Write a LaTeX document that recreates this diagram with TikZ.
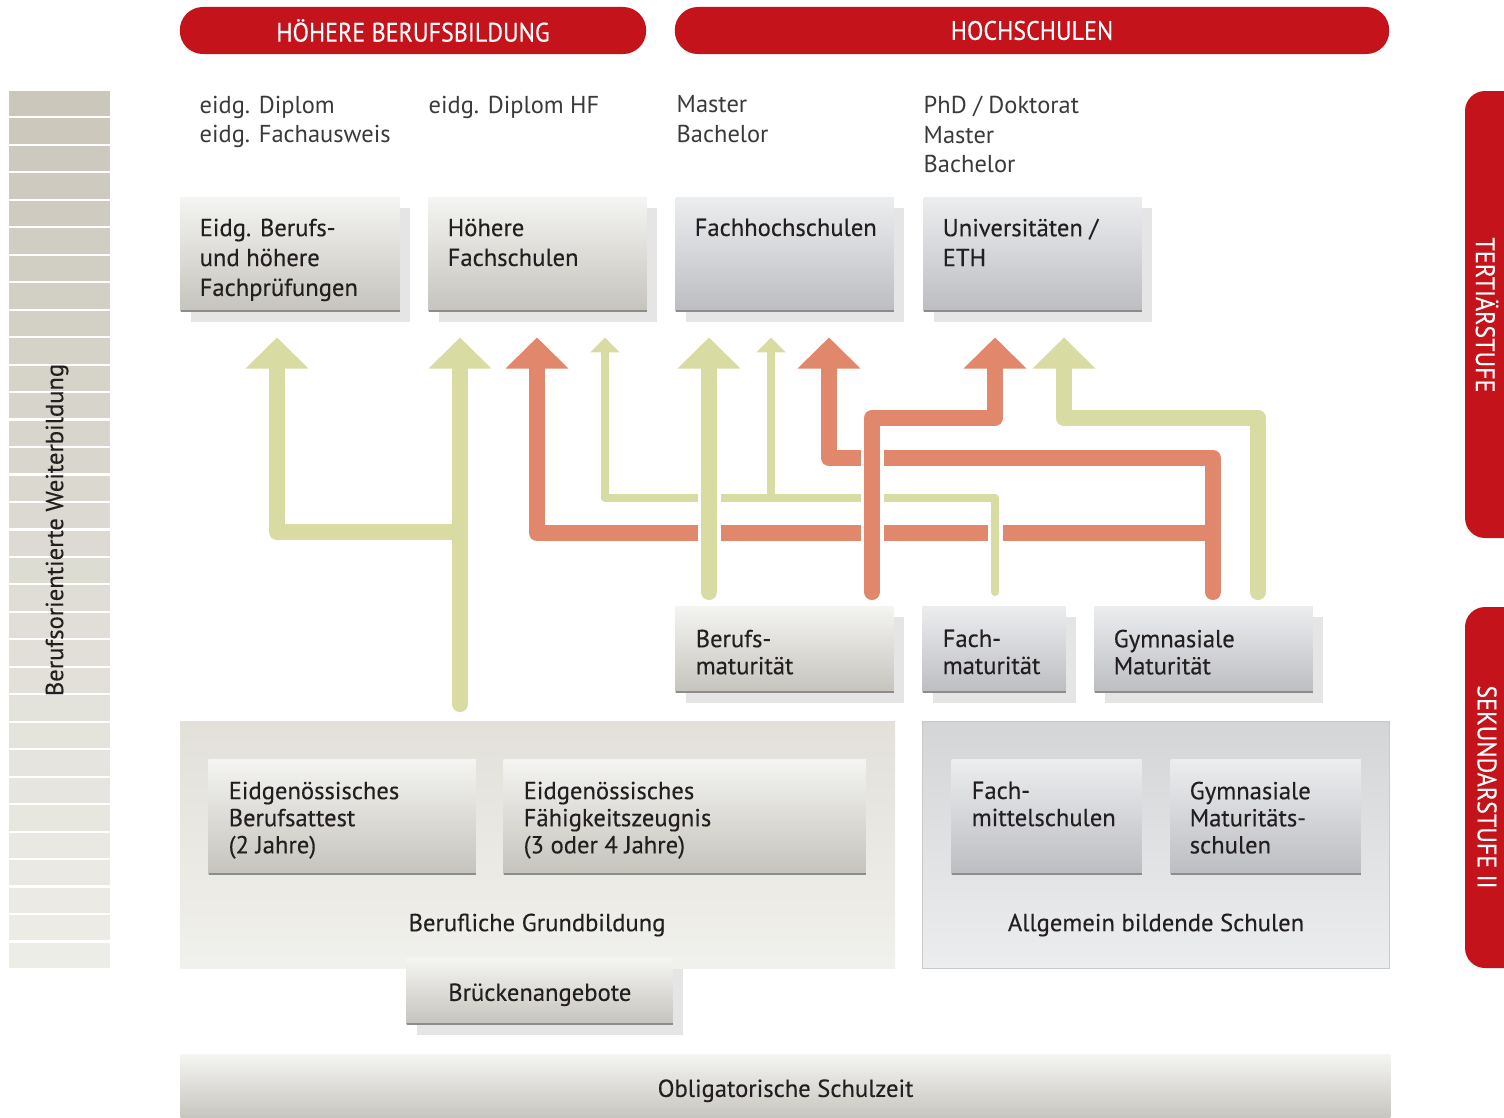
\documentclass[tikz,border=0pt]{standalone}
\usepackage{fontspec}
\setmainfont{PT Sans}
\newfontfamily\mittel{PT Sans}[FakeBold=0.3]
\newfontfamily\schmal{PT Sans}[FakeStretch=0.9,FakeBold=0.2]
\usetikzlibrary{arrows.meta,calc,shadows}

\definecolor{bbred}{HTML}{C4131B}
\definecolor{pfgruen}{HTML}{D8DCA2}
\definecolor{pfrot}{HTML}{E0876C}
\definecolor{warmtop}{HTML}{F4F4F2}
\definecolor{warmbot}{HTML}{C5C3BC}
\definecolor{kalttop}{HTML}{ECEDEF}
\definecolor{kaltbot}{HTML}{BCBDC1}
\definecolor{schatten}{HTML}{E5E5E5}
\definecolor{kante}{HTML}{8C8C8A}
\definecolor{textgrau}{HTML}{231F20}
\definecolor{abgrau}{HTML}{3A3A3A}
\definecolor{balkentop}{HTML}{CBC7BB}
\definecolor{balkenbot}{HTML}{EDEDE8}

\tikzset{
  pille/.style={fill=bbred, rounded corners=0.23cm, minimum height=0.47cm, inner sep=0pt,
    text=white, font=\schmal\fontsize{7.6}{9}\selectfont},
  stufetext/.style={rotate=-90, text=white, inner sep=0pt, font=\schmal\fontsize{7.6}{9}\selectfont},
  abschluss/.style={anchor=north west, align=left, inner sep=0pt, text=abgrau,
    font=\fontsize{6.95}{8.5}\selectfont},
  btext/.style={anchor=north west, align=left, inner sep=0pt, text=textgrau,
    font=\mittel\fontsize{7.0}{8.5}\selectfont},
  ktext/.style={btext, font=\mittel\fontsize{7.0}{7.7}\selectfont},
  warmbox/.style={top color=warmtop, bottom color=warmbot},
  kaltbox/.style={top color=kalttop, bottom color=kaltbot},
  flach/.style={anchor=north west, inner sep=0pt,
    path picture={\draw[kante, line width=0.04cm] (path picture bounding box.south west)
      -- (path picture bounding box.south east);}},
  kasten/.style={flach, general shadow={fill=schatten, shadow xshift=0.1cm, shadow yshift=-0.1cm}},
  dick/.style={line width=0.16cm, line cap=round, line join=round,
    -{Triangle[width=0.61cm,length=0.31cm,sharp]}},
  duenn/.style={line width=0.08cm, line cap=round, line join=round,
    -{Triangle[width=0.29cm,length=0.15cm,sharp]}}
}

\begin{document}
\begin{tikzpicture}[x=0.01cm,y=-0.01cm]
\useasboundingbox (0,0) rectangle (1504,1117);

% Kopfzeile
\node[pille, minimum width=4.66cm] (hbb) at (413,30.5) {HÖHERE BERUFSBILDUNG};
\node[pille, minimum width=7.14cm] (hs) at (1032,30.5) {HOCHSCHULEN};

% Stufen rechts
\fill[bbred, rounded corners=0.2cm] (1465,91) rectangle (1545,538);
\node[stufetext] (ter) at (1487,315) {TERTIÄRSTUFE};
\fill[bbred, rounded corners=0.2cm] (1465,607) rectangle (1545,968);
\node[stufetext] (sek) at (1487,787) {SEKUNDARSTUFE II};

% Weiterbildung links
\foreach \i in {0,...,31}{
  \pgfmathtruncatemacro\anteil{100*\i/31}
  \fill[balkenbot!\anteil!balkentop] (9,{91+\i*27.47}) rectangle (110,{91+\i*27.47+25.3});
}
\node[rotate=90, inner sep=0pt, text=textgrau, font=\mittel\fontsize{7.0}{8.5}\selectfont] (wb) at (57,530)
  {Berufsorientierte Weiterbildung};

% Abschluesse
\node[abschluss] (ab1) at (199,95) {eidg. Diplom\\eidg. Fachausweis};
\node[abschluss] (ab2) at (428,95) {eidg. Diplom HF};
\node[abschluss] (ab3) at (676,95) {Master\\Bachelor};
\node[abschluss] (ab4) at (923,95) {PhD / Doktorat\\Master\\Bachelor};

% Tertiaerstufe
\node[kasten, warmbox, minimum width=2.19cm, minimum height=1.14cm] (eb) at (180,197) {};
\node[btext] (ebt) at ([shift={(19,21)}]eb.north west) {Eidg. Berufs-\\und höhere\\Fachprüfungen};
\node[kasten, warmbox, minimum width=2.18cm, minimum height=1.14cm] (hf) at (428,197) {};
\node[btext] (hft) at ([shift={(19,21)}]hf.north west) {Höhere\\Fachschulen};
\node[kasten, kaltbox, minimum width=2.18cm, minimum height=1.14cm] (fh) at (675,197) {};
\node[btext] (fht) at ([shift={(19,21)}]fh.north west) {Fachhochschulen};
\node[kasten, kaltbox, minimum width=2.18cm, minimum height=1.14cm] (uni) at (923,197) {};
\node[btext] (unit) at ([shift={(19,21)}]uni.north west) {Universitäten /\\ETH};

% Maturitaeten
\node[kasten, warmbox, minimum width=2.18cm, minimum height=0.86cm] (bm) at (675,606) {};
\node[ktext] (bmt) at ([shift={(20,23)}]bm.north west) {Berufs-\\maturität};
\node[kasten, kaltbox, minimum width=1.43cm, minimum height=0.86cm] (fm) at (922,606) {};
\node[ktext] (fmt) at ([shift={(20,23)}]fm.north west) {Fach-\\maturität};
\node[kasten, kaltbox, minimum width=2.18cm, minimum height=0.86cm] (gm) at (1094,606) {};
\node[ktext] (gmt) at ([shift={(19,23)}]gm.north west) {Gymnasiale\\Maturität};

% Sekundarstufe II
\node[anchor=north west, inner sep=0pt, top color=balkentop!55!white, bottom color=balkenbot!80!white,
  minimum width=7.14cm, minimum height=2.47cm] (pbg) at (180,721) {};
\node[anchor=north west, inner sep=0pt, draw=kalttop!85!black, line width=0.01cm,
  top color=kalttop!88!black!90!white, bottom color=kalttop,
  minimum width=4.67cm, minimum height=2.47cm] (pab) at (922,721) {};
\node[flach, warmbox, minimum width=2.67cm, minimum height=1.15cm] (eba) at (208,759) {};
\node[ktext] (ebat) at ([shift={(20,22)}]eba.north west) {Eidgenössisches\\Berufsattest\\(2 Jahre)};
\node[flach, warmbox, minimum width=3.62cm, minimum height=1.15cm] (efz) at (503,759) {};
\node[ktext] (efzt) at ([shift={(20,22)}]efz.north west) {Eidgenössisches\\Fähigkeitszeugnis\\(3 oder 4 Jahre)};
\node[flach, kaltbox, minimum width=1.90cm, minimum height=1.15cm] (fms) at (951,759) {};
\node[ktext] (fmst) at ([shift={(20,22)}]fms.north west) {Fach-\\mittelschulen};
\node[flach, kaltbox, minimum width=1.90cm, minimum height=1.15cm] (gms) at (1170,759) {};
\node[ktext] (gmst) at ([shift={(19,22)}]gms.north west) {Gymnasiale\\Maturitäts-\\schulen};
\node[btext, anchor=center] (bgl) at (537,925) {Berufliche Grundbildung};
\node[btext, anchor=center] (abs) at (1156,925) {Allgemein bildende Schulen};

% Brueckenangebote und Schulzeit
\node[kasten, warmbox, minimum width=2.66cm, minimum height=0.66cm] (br) at (406,958) {};
\node[btext, anchor=center] (brt) at ($(br.center)+(0,3)$) {Brückenangebote};
\node[anchor=north west, inner sep=0pt, top color=warmtop, bottom color=warmbot,
  minimum width=12.09cm, minimum height=0.66cm] (os) at (180,1054) {};
\node[btext, anchor=center] (ost) at ($(os.center)+(0,3)$) {Obligatorische Schulzeit};

% Pfeile
\coordinate (oben) at ($(eb.south)+(0,25)$);
\coordinate (unten) at ($(bm.north)+(0,-14)$);
\coordinate (untenbg) at ($(pbg.north)+(0,-17)$);

\draw[dick, pfrot] (1213,0 |- unten) -- (1213,458) -- (829,458) -- (829,0 |- oben);
\draw[dick, pfrot] (1213,533) -- (537,533) -- (537,0 |- oben);

\draw[white, line width=0.15cm] (995,565) -- (995,512);
\draw[duenn, pfgruen] (995,0 |- unten) -- (995,498) -- (605,498) -- (605,0 |- oben);
\draw[duenn, pfgruen] (771,498) -- (771,0 |- oben);

\draw[dick, pfgruen] (460,0 |- untenbg) -- (460,0 |- oben);
\draw[dick, pfgruen] (460,532) -- (277,532) -- (277,0 |- oben);
\draw[dick, pfgruen] (1258,0 |- unten) -- (1258,418) -- (1064,418) -- (1064,0 |- oben);

\draw[white, line width=0.23cm] (709,570) -- (709,480);
\draw[dick, pfgruen] (709,0 |- unten) -- (709,0 |- oben);

\draw[white, line width=0.23cm] (872,575) -- (872,440);
\draw[dick, pfrot] (872,0 |- unten) -- (872,418) -- (995,418) -- (995,0 |- oben);
\end{tikzpicture}
\end{document}
